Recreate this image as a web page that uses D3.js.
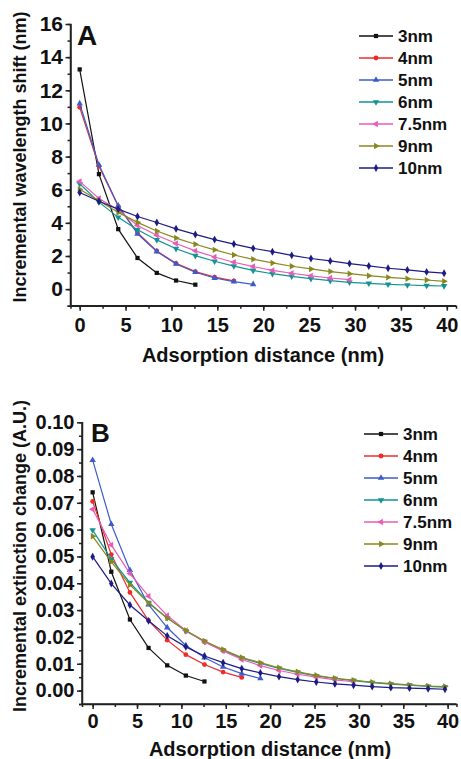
<!DOCTYPE html>
<html>
<head>
<meta charset="utf-8">
<style>
  body { margin: 0; background: #fff; }
  svg text { font-family: "Liberation Sans", Arial, sans-serif; font-weight: bold; fill: #111; }
  .axis path, .axis line { stroke: #222; stroke-width: 1.5; }
</style>
<script src="https://cdnjs.cloudflare.com/ajax/libs/d3/7.8.5/d3.min.js"></script>
</head>
<body>
<svg id="chart" width="461" height="759"></svg>
<script>
// adsorption distance (nm), shared by both panels
var distance = [0, 2.1, 4.2, 6.3, 8.4, 10.5, 12.6, 14.7, 16.8, 18.9, 21.0, 23.1, 25.2, 27.3, 29.4, 31.5, 33.6, 35.7, 37.8, 39.7];
var seriesNames = ["3nm", "4nm", "5nm", "6nm", "7.5nm", "9nm", "10nm"];

// panel A: incremental wavelength shift (nm)
var shift3 = [13.26, 6.94, 3.62, 1.88, 0.98, 0.52, 0.27];
var shift4 = [10.97, 7.42, 5.0, 3.4, 2.3, 1.56, 1.06, 0.72, 0.5];
var shift5 = [11.2, 7.5, 5.03, 3.34, 2.27, 1.52, 1.02, 0.67, 0.45, 0.29];
var shift6 = [6.36, 5.25, 4.33, 3.58, 2.97, 2.44, 2.02, 1.68, 1.39, 1.13, 0.93, 0.77, 0.63, 0.51, 0.41, 0.35, 0.29, 0.25, 0.21, 0.19];
var shift75 = [6.5, 5.47, 4.78, 3.84, 3.25, 2.75, 2.31, 1.94, 1.62, 1.36, 1.13, 0.96, 0.8, 0.67, 0.57];
var shift9 = [6.03, 5.33, 4.63, 4.03, 3.51, 3.08, 2.71, 2.37, 2.06, 1.8, 1.58, 1.38, 1.22, 1.06, 0.93, 0.81, 0.71, 0.63, 0.55, 0.47];
var shift10 = [5.83, 5.3, 4.83, 4.38, 4.02, 3.64, 3.3, 2.99, 2.72, 2.46, 2.26, 2.04, 1.85, 1.7, 1.54, 1.4, 1.26, 1.16, 1.04, 0.96];

// panel B: incremental extinction change (A.U.)
var ext3 = [0.0739, 0.0443, 0.0265, 0.0159, 0.0094, 0.0056, 0.0034];
var ext4 = [0.0705, 0.0507, 0.0366, 0.0261, 0.0188, 0.0134, 0.0097, 0.0069, 0.0049];
var ext5 = [0.0859, 0.0620, 0.0449, 0.0320, 0.0235, 0.0168, 0.0123, 0.0088, 0.0063, 0.0045];
var ext6 = [0.0598, 0.0490, 0.0402, 0.0328, 0.0271, 0.0222, 0.0183, 0.0150, 0.0121, 0.0101, 0.0083, 0.0068, 0.0055, 0.0045, 0.0037, 0.0030, 0.0024, 0.0020, 0.0016, 0.0013];
var ext75 = [0.0676, 0.0543, 0.0436, 0.0352, 0.0280, 0.0224, 0.0181, 0.0148, 0.0116, 0.0093, 0.0075, 0.0061, 0.0050, 0.0040, 0.0033];
var ext9 = [0.0575, 0.0480, 0.0394, 0.0326, 0.0270, 0.0224, 0.0185, 0.0153, 0.0123, 0.0104, 0.0085, 0.0070, 0.0057, 0.0046, 0.0039, 0.0031, 0.0026, 0.0021, 0.0017, 0.0015];
var ext10 = [0.0499, 0.0399, 0.0319, 0.0260, 0.0204, 0.0163, 0.0129, 0.0104, 0.0082, 0.0066, 0.0052, 0.0041, 0.0032, 0.0025, 0.0020, 0.0015, 0.0011, 0.0009, 0.0007, 0.0005];

var shiftTicks = [0, 2, 4, 6, 8, 10, 12, 14, 16];
var extTicks = [0, 0.01, 0.02, 0.03, 0.04, 0.05, 0.06, 0.07, 0.08, 0.09, 0.10];
var distTicks = [0, 5, 10, 15, 20, 25, 30, 35, 40];

// styling
var colors = ["#111111", "#f02a2a", "#3c5ccc", "#119494", "#e85cb8", "#88881e", "#1c1c84"];
var markers = [
  { type: d3.symbolSquare, rot: 0 },
  { type: d3.symbolCircle, rot: 0 },
  { type: d3.symbolTriangle, rot: 0 },
  { type: d3.symbolTriangle, rot: 180 },
  { type: d3.symbolTriangle, rot: -90 },
  { type: d3.symbolTriangle, rot: 90 },
  { type: d3.symbolDiamond, rot: 0 }
];

var svg = d3.select("#chart");

function drawPanel(cfg) {
  var x = d3.scaleLinear().domain(cfg.xDomain).range(cfg.xRange);
  var y = d3.scaleLinear().domain(cfg.yDomain).range(cfg.yRange);
  var g = svg.append("g");

  // minor ticks
  g.append("g").attr("class", "axis").attr("transform", "translate(0," + cfg.yRange[0] + ")")
    .call(d3.axisBottom(x).tickValues(d3.range(0, 41, 2.5)).tickSize(3).tickFormat(""));
  g.append("g").attr("class", "axis").attr("transform", "translate(" + cfg.xRange[0] + ",0)")
    .call(d3.axisLeft(y).tickValues(cfg.minorY).tickSize(3).tickFormat(""));

  var xa = g.append("g").attr("class", "axis").attr("transform", "translate(0," + cfg.yRange[0] + ")")
    .call(d3.axisBottom(x).tickValues(distTicks).tickSize(5).tickPadding(cfg.xPad).tickSizeOuter(0));
  xa.selectAll("text").style("font-size", "20px");
  xa.select(".domain").attr("d", "M" + cfg.xRange[0] + ",0H" + cfg.xRange[1]);

  var ya = g.append("g").attr("class", "axis").attr("transform", "translate(" + cfg.xRange[0] + ",0)")
    .call(d3.axisLeft(y).tickValues(cfg.yTicks).tickSize(5).tickPadding(2.5).tickSizeOuter(0).tickFormat(cfg.fmt));
  ya.selectAll("text").style("font-size", cfg.yTickSize);
  ya.select(".domain").attr("d", "M0," + cfg.yRange[0] + "V" + y(cfg.yTicks[cfg.yTicks.length - 1]));

  var line = d3.line().x(function (d) { return x(d[0]); }).y(function (d) { return y(d[1]); });

  cfg.series.forEach(function (vals, i) {
    var pts = vals.map(function (v, j) { return [distance[j], v]; });
    g.append("path").datum(pts).attr("fill", "none").attr("stroke", colors[i])
      .attr("stroke-width", 1.2).attr("d", line);
    g.selectAll(null).data(pts).enter().append("path")
      .attr("transform", function (d) { return "translate(" + x(d[0]) + "," + y(d[1]) + ") rotate(" + markers[i].rot + ")"; })
      .attr("d", d3.symbol().type(markers[i].type).size(18))
      .attr("fill", colors[i]);
  });

  // legend
  seriesNames.forEach(function (name, i) {
    var ly = cfg.legY + i * 22;
    g.append("line").attr("x1", cfg.legX).attr("x2", cfg.legX + 34).attr("y1", ly).attr("y2", ly)
      .attr("stroke", colors[i]).attr("stroke-width", 1.4);
    g.append("path").attr("transform", "translate(" + (cfg.legX + 17) + "," + ly + ") rotate(" + markers[i].rot + ")")
      .attr("d", d3.symbol().type(markers[i].type).size(18)).attr("fill", colors[i]);
    g.append("text").attr("x", cfg.legX + 39).attr("y", ly + 6).style("font-size", "17px").text(name);
  });

  g.append("text").attr("x", cfg.labX).attr("y", cfg.labY).style("font-size", cfg.labSize).text(cfg.label);

  g.append("text").attr("text-anchor", "middle")
    .attr("transform", "translate(" + cfg.xTitle[0] + "," + cfg.xTitle[1] + ")")
    .style("font-size", "20px").text("Adsorption distance (nm)");
  g.append("text").attr("text-anchor", "middle")
    .attr("transform", "translate(" + cfg.yTitle[0] + "," + cfg.yTitle[1] + ") rotate(-90)")
    .style("font-size", "18px").text(cfg.yLabel);
}

drawPanel({
  xDomain: [-1, 41], xRange: [70.5, 456],
  yDomain: [-1, 16], yRange: [305.7, 24],
  yTicks: shiftTicks, minorY: d3.range(-1, 16, 1), fmt: d3.format("d"), xPad: 7, yTickSize: "21px",
  series: [shift3, shift4, shift5, shift6, shift75, shift9, shift10],
  legX: 359, legY: 36, label: "A", labX: 77, labY: 45, labSize: "28px",
  xTitle: [263, 362], yTitle: [26, 157], yLabel: "Incremental wavelength shift (nm)"
});

drawPanel({
  xDomain: [-1.2, 41], xRange: [82, 456.5],
  yDomain: [-0.005, 0.10], yRange: [704, 422.3],
  yTicks: extTicks, minorY: d3.range(-0.005, 0.1, 0.005), fmt: d3.format(".2f"), xPad: 5, yTickSize: "20px",
  series: [ext3, ext4, ext5, ext6, ext75, ext9, ext10],
  legX: 364, legY: 434, label: "B", labX: 91, labY: 442, labSize: "26px",
  xTitle: [270, 756], yTitle: [26, 556], yLabel: "Incremental extinction change (A.U.)"
});
</script>
</body>
</html>
